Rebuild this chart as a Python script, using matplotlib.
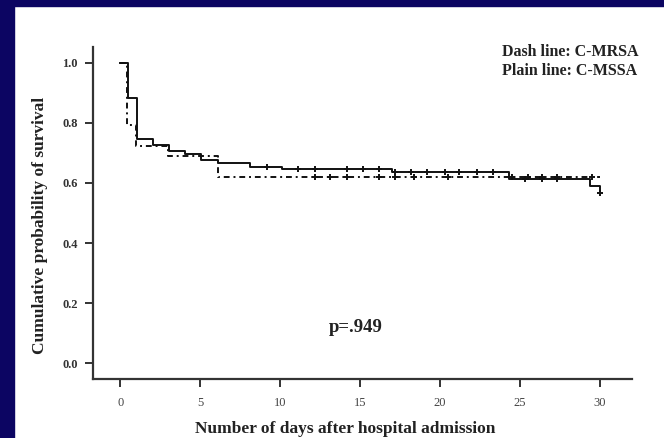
import numpy as np
import matplotlib.pyplot as plt

# Kaplan-Meier step curves (day of step, survival after step)
mssa_days = [0, 0.5, 1.05, 2.05, 3.05, 4.05, 5.05, 6.1, 8.1, 10.1, 17.0, 24.3, 29.4, 30.0]
mssa_surv = [1.0, 0.883, 0.747, 0.727, 0.707, 0.697, 0.677, 0.667, 0.653, 0.647, 0.637, 0.613, 0.59, 0.567]
mssa_censor = [9.2, 11.1, 12.2, 14.2, 15.2, 16.2, 17.2, 18.2, 19.2, 20.3, 21.2, 22.3, 23.3,
               25.3, 26.4, 27.3, 30.0]

mrsa_days = [0, 0.4, 1.0, 3.0, 6.1, 30.0]
mrsa_surv = [1.0, 0.793, 0.723, 0.69, 0.62, 0.62]
mrsa_censor = [12.2, 13.1, 14.2, 16.2, 17.2, 18.4, 20.5, 24.5, 25.5, 26.4, 27.3, 29.5]

xticks = [0, 5, 10, 15, 20, 25, 30]
yticks = [0.0, 0.2, 0.4, 0.6, 0.8, 1.0]


def surv_at(days, surv, t):
    i = np.searchsorted(days, t, side='right') - 1
    return surv[i]


fig = plt.figure(figsize=(6.64, 4.38), dpi=100)
fig.patch.set_facecolor('white')
navy = '#0c0562'
fig.add_artist(plt.Rectangle((0, 0), 14 / 664, 1, transform=fig.transFigure, color=navy, zorder=0))
fig.add_artist(plt.Rectangle((0, 1 - 6 / 438), 1, 6 / 438, transform=fig.transFigure, color=navy, zorder=0))

ax = fig.add_axes([93 / 664, 1 - 379 / 438, (632 - 93) / 664, (379 - 47) / 438])
serif = ['Liberation Serif', 'DejaVu Serif']

ax.step(mssa_days, mssa_surv, where='post', color='#111111', lw=1.4)
ax.step(mrsa_days, mrsa_surv, where='post', color='#111111', lw=1.4, dashes=(3, 2, 1, 2))
ax.plot(mssa_censor, [surv_at(mssa_days, mssa_surv, t) for t in mssa_censor],
        '+', color='#111111', ms=5, mew=1.4)
ax.plot(mrsa_censor, [surv_at(mrsa_days, mrsa_surv, t) for t in mrsa_censor],
        '+', color='#111111', ms=5, mew=1.4)

ax.set_xlim(-1.7, 32.0)
ax.set_ylim(-0.053, 1.053)
for s in ['top', 'right']:
    ax.spines[s].set_visible(False)
for s in ['left', 'bottom']:
    ax.spines[s].set_linewidth(1.6)
    ax.spines[s].set_color('#333333')
ax.set_xticks(xticks)
ax.set_yticks(yticks)
ax.set_xticklabels([str(x) for x in xticks], fontfamily=serif, fontsize=9, color='#444444')
ax.set_yticklabels(['%.1f' % y for y in yticks], fontfamily=serif, fontsize=9,
                   color='#333333', fontweight='bold')
ax.tick_params(direction='out', length=6, width=1.4, color='#333333')
ax.tick_params(axis='x', pad=7)
ax.tick_params(axis='y', pad=5)

ax.set_xlabel('Number of days after hospital admission', fontfamily=serif, fontsize=12.5,
              fontweight='bold', color='#222222')
ax.set_ylabel('Cumulative probability of survival', fontfamily=serif, fontsize=12.5,
              fontweight='bold', color='#222222')
ax.xaxis.set_label_coords(0.468, -0.128)
ax.yaxis.set_label_coords(-0.083, 0.462)

fig.text(502 / 664, 1 - 52 / 438, 'Dash line: C-MRSA', fontfamily=serif, fontsize=11.5,
         fontweight='bold', color='#222222', va='center')
fig.text(502 / 664, 1 - 71 / 438, 'Plain line: C-MSSA', fontfamily=serif, fontsize=11.5,
         fontweight='bold', color='#222222', va='center')
ax.text(14.7, 0.12, 'p=.949', fontfamily=serif, fontsize=13.5, fontweight='bold',
        color='#222222', va='center', ha='center')

fig.savefig('out.png', dpi=100, facecolor='white')
